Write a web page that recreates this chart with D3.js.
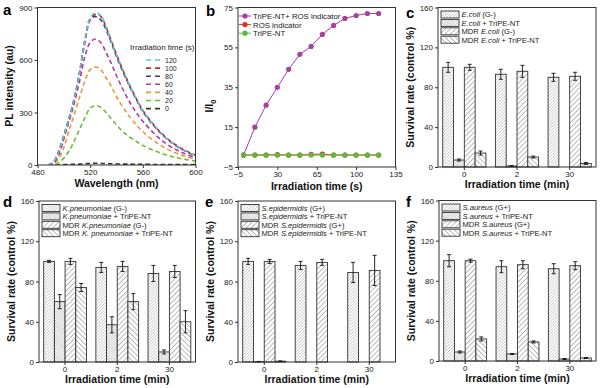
<!DOCTYPE html>
<html>
<head>
<meta charset="utf-8">
<script src="https://cdn.jsdelivr.net/npm/d3@7"></script>
<style>
  body { margin: 0; background: #fff; }
  svg { display: block; font-family: "Liberation Sans", Arial, sans-serif; }
</style>
</head>
<body>
<svg id="fig" width="600" height="388"></svg>
<script>
// ---- panel a: PL spectra ----
const wavelengths = [488,492,496,500,504,508,512,516,520,524,528,532,536,540,545,550,555,560,570,580,590,600];
const spec120 = [0,15,75,165,265,380,530,710,840,870,855,790,710,630,540,455,380,310,215,140,90,55];
const spec100 = [0,14,72,160,260,375,525,700,830,860,850,790,712,632,540,455,380,312,215,142,92,56];
const spec80  = [0,16,78,170,270,385,535,715,835,848,830,775,700,620,530,448,375,305,210,138,88,52];
const spec60  = [0,10,55,150,250,355,480,620,700,720,700,645,580,510,430,360,300,250,170,110,70,42];
const spec40  = [0,5,35,100,200,290,390,480,545,560,545,500,450,390,330,275,230,190,130,85,55,33];
const spec20  = [0,0,12,40,80,140,205,270,325,340,330,300,265,230,190,160,135,112,78,52,35,22];
const spec0   = [0,0,0,2,3,4,5,7,9,10,9,8,7,6,5,5,4,4,3,3,2,2];
const specLabels = ["120","100","80","60","40","20","0"];
const specColors = ["#5cc6d6","#c0282e","#3b3b8e","#b03aa8","#e8993a","#69bd3a","#333333"];

// ---- panel b: I/I0 vs time ----
const timeSec = [0,10,20,30,40,50,60,70,80,90,100,110,120];
const probeWithNT = [1,15,26,35,44,51.5,55.5,61.5,66,69.5,71,72,72];
const probeOnly   = [1,1,1,1.2,1,1,1.3,1.5,1,1,1,1,1];
const ntOnly      = [1,1,1,1,1,1,1,1,1,1,1,1,1];
const bNames  = ["TriPE-NT+ ROS indicator","ROS indicator","TriPE-NT"];
const bColors = ["#a8409e","#d9312a","#5fb83e"];

// ---- panels c-f: survival rates ----
const groups = ["0","2","30"];
const ecoli = [100,93,90],      ecoliSd = [5,5,4];
const ecoliNT = [7,1,0],        ecoliNTSd = [1,0.4,0];
const mdrEcoli = [100,96,91],   mdrEcoliSd = [3,6,4];
const mdrEcoliNT = [14,10,3.5], mdrEcoliNTSd = [2,1,1];

const kpn = [100,94,88],        kpnSd = [1,5,8];
const kpnNT = [60,37,10],       kpnNTSd = [7,8,2];
const mdrKpn = [100,95,90],     mdrKpnSd = [3,5,6];
const mdrKpnNT = [74,60,40],    mdrKpnNTSd = [4,8,11];

const sepi = [100,96,89],       sepiSd = [3,4,10];
const sepiNT = [0.4,0,0],       sepiNTSd = [0.2,0,0];
const mdrSepi = [100,99,91],    mdrSepiSd = [2,3,15];
const mdrSepiNT = [0.8,0,0],    mdrSepiNTSd = [0.3,0,0];

const saur = [100,94,92],       saurSd = [6,6,5];
const saurNT = [9,7,2],         saurNTSd = [1,0.5,0.5];
const mdrSaur = [100,96,95],    mdrSaurSd = [1.5,4,4];
const mdrSaurNT = [22,19,3],    mdrSaurNTSd = [2,1,0.5];

const svg = d3.select("#fig");
svg.append("rect").attr("width", 600).attr("height", 388).attr("fill", "#fff");

// hatch patterns
const defs = svg.append("defs");
const hatches = [
  { id: "h1", size: 2.2, angle: 45,  color: "#777", w: 0.6 },
  { id: "h2", size: 2.0, angle: -45, color: "#666", w: 0.7 },
  { id: "h3", size: 3.6, angle: 45,  color: "#555", w: 0.8 },
  { id: "h4", size: 3.6, angle: -45, color: "#555", w: 0.8 }
];
hatches.forEach(h => {
  const p = defs.append("pattern").attr("id", h.id)
    .attr("patternUnits", "userSpaceOnUse")
    .attr("width", h.size).attr("height", h.size)
    .attr("patternTransform", `rotate(${h.angle})`);
  p.append("rect").attr("width", h.size).attr("height", h.size).attr("fill", "#fff");
  p.append("line").attr("x1", 0).attr("y1", 0).attr("x2", 0).attr("y2", h.size)
    .attr("stroke", h.color).attr("stroke-width", h.w);
});

function styleAxis(g) {
  g.attr("font-family", null).attr("font-size", 8);
  g.select(".domain").remove();
  g.selectAll(".tick line").attr("stroke", "#333");
  g.selectAll(".tick text").attr("fill", "#222");
}

function drawFrame(box, xs, ys, xTicks, yTicks) {
  const gx = svg.append("g").attr("transform", `translate(0,${box.bottom})`);
  const ax = d3.axisBottom(xs).tickSize(3).tickPadding(1);
  if (xTicks) ax.tickValues(xTicks);
  gx.call(ax);
  styleAxis(gx);
  const gy = svg.append("g").attr("transform", `translate(${box.left},0)`);
  gy.call(d3.axisLeft(ys).tickValues(yTicks).tickSize(3).tickPadding(2));
  styleAxis(gy);
  svg.append("rect")
    .attr("x", box.left).attr("y", box.top)
    .attr("width", box.right - box.left).attr("height", box.bottom - box.top)
    .attr("fill", "none").attr("stroke", "#333").attr("stroke-width", 1);
}

function titles(box, letter, letterPos, xTitle, xTitleY, yTitleX, yCenter) {
  svg.append("text").attr("x", letterPos[0]).attr("y", letterPos[1])
    .attr("font-size", 15).attr("font-weight", "bold").text(letter);
  svg.append("text").attr("x", (box.left + box.right) / 2).attr("y", xTitleY)
    .attr("text-anchor", "middle").attr("font-size", 10.5).attr("font-weight", "bold")
    .attr("fill", "#111").text(xTitle);
  return svg.append("text")
    .attr("transform", `translate(${yTitleX},${yCenter}) rotate(-90)`)
    .attr("text-anchor", "middle").attr("font-size", 10.5).attr("font-weight", "bold")
    .attr("fill", "#111");
}

// ================= panel a =================
{
  const box = { left: 37.5, right: 195.5, top: 7.5, bottom: 165 };
  const x = d3.scaleLinear().domain([480, 600]).range([box.left, box.right]);
  const y = d3.scaleLinear().domain([0, 900]).range([box.bottom, box.top]);
  const series = [spec120, spec100, spec80, spec60, spec40, spec20, spec0];
  const line = d3.line().x((d, i) => x(wavelengths[i])).y(d => y(d)).curve(d3.curveCatmullRom);
  const clip = defs.append("clipPath").attr("id", "clipA");
  clip.append("rect").attr("x", box.left).attr("y", box.top)
    .attr("width", box.right - box.left).attr("height", box.bottom - box.top);
  const g = svg.append("g").attr("clip-path", "url(#clipA)");
  // draw lowest first so that 120 ends on top
  series.slice().reverse().forEach((s, k) => {
    const i = series.length - 1 - k;
    g.append("path").datum(s).attr("d", line).attr("fill", "none")
      .attr("stroke", specColors[i]).attr("stroke-width", 1.6)
      .attr("stroke-dasharray", "4.5,3");
  });
  drawFrame(box, x, y, [480, 520, 560, 600], [0, 300, 600, 900]);
  titles(box, "a", [3, 15], "Wavelength (nm)", 187, 13, 86).text("PL intensity (au)");

  const leg = svg.append("g").attr("fill", "#222");
  leg.append("text").attr("x", 130).attr("y", 50).attr("font-size", 8).text("Irradiation time (s)");
  specLabels.forEach((lab, i) => {
    const yy = 60 + i * 8.1;
    leg.append("line").attr("x1", 146).attr("x2", 162).attr("y1", yy).attr("y2", yy)
      .attr("stroke", specColors[i]).attr("stroke-width", 1.6).attr("stroke-dasharray", "5,4");
    leg.append("text").attr("x", 165).attr("y", yy + 2.7).attr("font-size", 7)
      .text(lab);
  });
}

// ================= panel b =================
{
  const box = { left: 238, right: 395.5, top: 7.5, bottom: 167 };
  const x = d3.scaleLinear().domain([-5, 135]).range([box.left, box.right]);
  const y = d3.scaleLinear().domain([-5, 75]).range([box.bottom, box.top]);
  const series = [probeWithNT, probeOnly, ntOnly];
  const line = d3.line().x((d, i) => x(timeSec[i])).y(d => y(d));
  series.forEach((s, i) => {
    const g = svg.append("g");
    g.append("path").datum(s).attr("d", line).attr("fill", "none")
      .attr("stroke", bColors[i]).attr("stroke-width", 1);
    g.selectAll("circle").data(s).join("circle")
      .attr("cx", (d, j) => x(timeSec[j])).attr("cy", d => y(d)).attr("r", 2.6)
      .attr("fill", bColors[i]);
  });
  drawFrame(box, x, y, [-5, 30, 65, 100, 135], [-5, 15, 35, 55, 75]);
  const yt = titles(box, "b", [206, 16], "Irradiation time (s)", 190, 213, 106);
  yt.text("I/I");
  yt.append("tspan").attr("font-size", 7.5).attr("dy", 3).text("0");

  const leg = svg.append("g").attr("font-size", 7.8).attr("fill", "#222");
  bNames.forEach((n, i) => {
    const yy = 16 + i * 8.6;
    leg.append("line").attr("x1", 239).attr("x2", 251).attr("y1", yy).attr("y2", yy)
      .attr("stroke", bColors[i]).attr("stroke-width", 1);
    leg.append("circle").attr("cx", 245).attr("cy", yy).attr("r", 2.6).attr("fill", bColors[i]);
    leg.append("text").attr("x", 253).attr("y", yy + 3).text(n);
  });
}

// ================= bar panels =================
function barPanel(cfg) {
  const box = cfg.box;
  const x0 = d3.scaleBand().domain(groups).range([box.left, box.right])
    .paddingInner(0.18).paddingOuter(0.09);
  const keys = ["h1", "h2", "h3", "h4"];
  const x1 = d3.scaleBand().domain(keys).range([0, x0.bandwidth()]);
  const y = d3.scaleLinear().domain([0, 160]).range([box.bottom, box.top]);

  cfg.values.forEach((vals, si) => {
    const g = svg.append("g");
    groups.forEach((grp, gi) => {
      const v = vals[gi], e = cfg.errors[si][gi];
      const bx = x0(grp) + x1(keys[si]);
      g.append("rect").attr("x", bx).attr("y", y(v))
        .attr("width", x1.bandwidth()).attr("height", y(0) - y(v))
        .attr("fill", `url(#${keys[si]})`).attr("stroke", "#333").attr("stroke-width", 0.9);
      if (e > 0) {
        const cx = bx + x1.bandwidth() / 2;
        g.append("line").attr("x1", cx).attr("x2", cx).attr("y1", y(v - e)).attr("y2", y(v + e))
          .attr("stroke", "#111").attr("stroke-width", 0.9);
        [v - e, v + e].forEach(t => g.append("line")
          .attr("x1", cx - 2).attr("x2", cx + 2).attr("y1", y(t)).attr("y2", y(t))
          .attr("stroke", "#111").attr("stroke-width", 0.9));
      }
    });
  });
  drawFrame(box, x0, y, null, [0, 40, 80, 120, 160]);
  titles(box, cfg.letter, cfg.letterPos, "Irradiation time (min)", box.bottom + 21, box.left - 24,
    (box.top + box.bottom) / 2).text("Survival rate (control %)");

  const leg = svg.append("g").attr("font-size", 7.6).attr("fill", "#222");
  cfg.labels.forEach((segs, i) => {
    const yy = box.top + 3.5 + i * 8.4;
    leg.append("rect").attr("x", box.left + 3).attr("y", yy).attr("width", 18).attr("height", 7)
      .attr("fill", `url(#${keys[i]})`).attr("stroke", "#333").attr("stroke-width", 0.9);
    const t = leg.append("text").attr("x", box.left + 23.5).attr("y", yy + 6.3);
    segs.forEach(s => t.append("tspan").attr("font-style", s[1] ? "italic" : null).text(s[0]));
  });
}

barPanel({
  box: { left: 438, right: 596, top: 7.5, bottom: 167 },
  letter: "c", letterPos: [406, 18],
  values: [ecoli, ecoliNT, mdrEcoli, mdrEcoliNT],
  errors: [ecoliSd, ecoliNTSd, mdrEcoliSd, mdrEcoliNTSd],
  labels: [
    [["E.coli", true], [" (G-)", false]],
    [["E.coli", true], [" + TriPE-NT", false]],
    [["MDR ", false], ["E.coli", true], [" (G-)", false]],
    [["MDR ", false], ["E.coli", true], [" + TriPE-NT", false]]
  ]
});

barPanel({
  box: { left: 39, right: 195.5, top: 201, bottom: 362 },
  letter: "d", letterPos: [3, 207],
  values: [kpn, kpnNT, mdrKpn, mdrKpnNT],
  errors: [kpnSd, kpnNTSd, mdrKpnSd, mdrKpnNTSd],
  labels: [
    [["K.pneumoniae", true], [" (G-)", false]],
    [["K.pneumoniae", true], [" + TriPE-NT", false]],
    [["MDR ", false], ["K.pneumoniae", true], [" (G-)", false]],
    [["MDR ", false], ["K. pneumoniae", true], [" + TriPE-NT", false]]
  ]
});

barPanel({
  box: { left: 238, right: 395.5, top: 201, bottom: 362 },
  letter: "e", letterPos: [205, 207],
  values: [sepi, sepiNT, mdrSepi, mdrSepiNT],
  errors: [sepiSd, sepiNTSd, mdrSepiSd, mdrSepiNTSd],
  labels: [
    [["S.epidermidis", true], [" (G+)", false]],
    [["S.epidermidis", true], [" + TriPE-NT", false]],
    [["MDR ", false], ["S.epidermidis", true], [" (G+)", false]],
    [["MDR ", false], ["S.epidermidis", true], [" + TriPE-NT", false]]
  ]
});

barPanel({
  box: { left: 439, right: 596, top: 200.5, bottom: 361 },
  letter: "f", letterPos: [406, 207],
  values: [saur, saurNT, mdrSaur, mdrSaurNT],
  errors: [saurSd, saurNTSd, mdrSaurSd, mdrSaurNTSd],
  labels: [
    [["S.aureus", true], [" (G+)", false]],
    [["S.aureus", true], [" + TriPE-NT", false]],
    [["MDR ", false], ["S.aureus", true], [" (G+)", false]],
    [["MDR ", false], ["S.aureus", true], [" + TriPE-NT", false]]
  ]
});
</script>
</body>
</html>
